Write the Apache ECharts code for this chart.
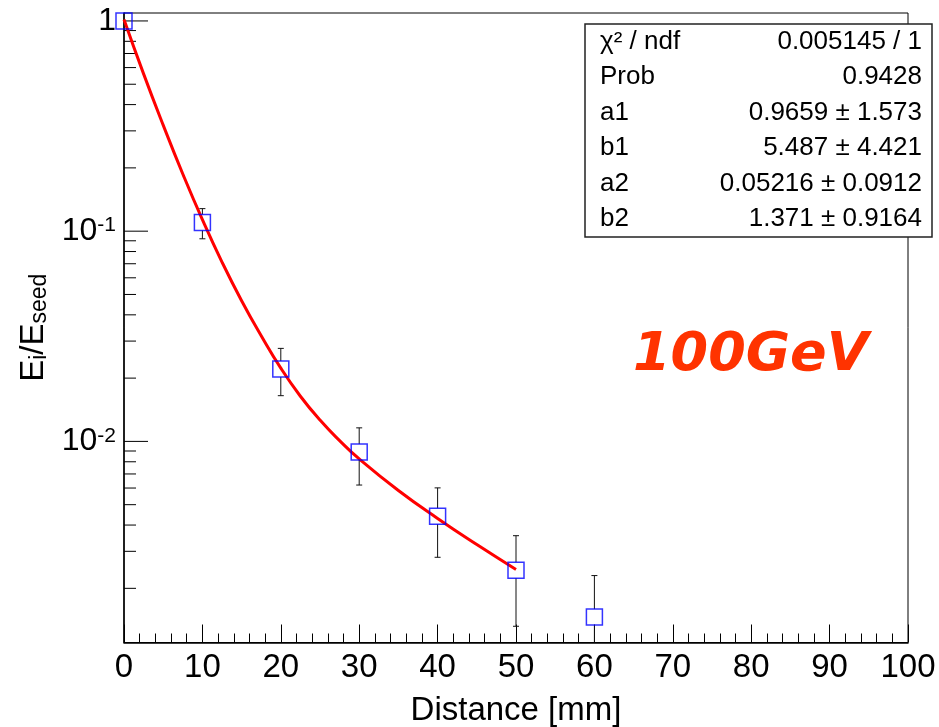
<!DOCTYPE html>
<html><head><meta charset="utf-8">
<script src="https://cdn.jsdelivr.net/npm/echarts@6/dist/echarts.min.js"></script>
<style>html,body{margin:0;padding:0;background:#fff}#c{width:939px;height:727px}</style>
</head><body><div id="c"></div>
<script>
// ---- data ----
const distances = [0, 10, 20, 30, 40, 50, 60];
const ratios    = [1.0, 0.110, 0.0221, 0.0089, 0.00441, 0.00244, 0.00146];
const errors    = [0, 0.018, 0.0056, 0.0027, 0.0016, 0.00112, 0.00084];
const fitX = [0, 2.5, 5, 7.5, 10, 12.5, 15, 17.5, 20, 22.5, 25, 27.5, 30, 35, 40, 45, 50];
const fitY = [1.016, 0.560, 0.3195, 0.1871, 0.1134, 0.0713, 0.0467, 0.0318, 0.0223, 0.0164, 0.01263, 0.01009, 0.00825, 0.00584, 0.0043, 0.00323, 0.00246];
const yMajorTicks = [0.01, 0.1, 1];
const yMinorTicks = [0.002,0.003,0.004,0.005,0.006,0.007,0.008,0.009,
                     0.02,0.03,0.04,0.05,0.06,0.07,0.08,0.09,
                     0.2,0.3,0.4,0.5,0.6,0.7,0.8,0.9];
const statLabels = ['χ² / ndf', 'Prob', 'a1', 'b1', 'a2', 'b2'];
const statValues = ['0.005145 / 1', '0.9428', '0.9659 ± 1.573', '5.487 ± 4.421', '0.05216 ± 0.0912', '1.371 ± 0.9164'];
const energyLabel = '100GeV';
const xTitle = 'Distance [mm]';

// ---- build ----
const FONT = '"Liberation Sans", Arial, Helvetica, sans-serif';
const chart = echarts.init(document.getElementById('c'), null, {renderer: 'canvas'});

const pointData = distances.map((d, i) => [d, ratios[i]]);
const errData = distances.map((d, i) => [d, ratios[i] - errors[i], ratios[i] + errors[i], ratios[i]]);
const fitData = fitX.map((x, i) => [x, fitY[i]]);
const tickData = yMajorTicks.map(v => [0, v, 24]).concat(yMinorTicks.map(v => [0, v, 12]));

const statGraphics = [];
const boxX = 585, boxY = 24, boxW = 347, boxH = 213;
statGraphics.push({type: 'rect', z: 100, shape: {x: boxX, y: boxY, width: boxW, height: boxH},
  style: {fill: '#fff', stroke: '#222', lineWidth: 1.5}});
const rowH = boxH / statLabels.length;
statLabels.forEach((lab, i) => {
  const cy = boxY + rowH * (i + 0.5);
  statGraphics.push({type: 'text', z: 101, x: 600, y: cy,
    style: {text: lab, font: '26px ' + FONT, fill: '#000', textAlign: 'left', textVerticalAlign: 'middle'}});
  statGraphics.push({type: 'text', z: 101, x: 922, y: cy,
    style: {text: statValues[i], font: '26px ' + FONT, fill: '#000', textAlign: 'right', textVerticalAlign: 'middle'}});
});
statGraphics.push({type: 'text', z: 101, x: 633, y: 356,
  style: {text: energyLabel, font: 'italic bold 54px "DejaVu Sans", sans-serif', fill: '#ff3300',
    textAlign: 'left', textVerticalAlign: 'middle'}});

const option = {
  animation: false,
  backgroundColor: '#fff',
  grid: {left: 124, right: 31, top: 13, bottom: 84.5, show: true, borderColor: '#000', borderWidth: 1,
    backgroundColor: 'transparent', containLabel: false, outerBoundsMode: 'none'},
  xAxis: {
    type: 'value', min: 0, max: 100, interval: 10,
    axisLine: {show: true, onZero: false, lineStyle: {color: '#000', width: 1.5}},
    axisTick: {show: true, inside: true, length: 18, lineStyle: {color: '#000', width: 1}},
    minorTick: {show: true, splitNumber: 5, length: 9, lineStyle: {color: '#000', width: 1}},
    splitLine: {show: false},
    axisLabel: {fontSize: 33, color: '#000', fontFamily: FONT, margin: 9},
    name: xTitle, nameLocation: 'middle', nameGap: 52,
    nameTextStyle: {fontSize: 33, color: '#000', fontFamily: FONT}
  },
  yAxis: {
    type: 'log', logBase: 10, min: 0.001105, max: 1.091,
    axisLine: {show: true, onZero: false, lineStyle: {color: '#000', width: 1.5}},
    axisTick: {show: false},
    splitLine: {show: false},
    axisLabel: {
      margin: 8, color: '#000', fontFamily: FONT,
      formatter: function (v) {
        const l = Math.log10(v), e = Math.round(l);
        if (Math.abs(l - e) > 1e-6) return '';
        if (e === 0) return '{b|1}';
        return '{b|10}{s|' + e + '}';
      },
      rich: {
        b: {fontSize: 32, fontFamily: FONT, color: '#000'},
        s: {fontSize: 21, fontFamily: FONT, color: '#000', verticalAlign: 'top'}
      }
    },
    name: '{b|E}{s|i}{b|/E}{s|seed}', nameLocation: 'middle', nameGap: 66,
    nameTextStyle: {
      rich: {
        b: {fontSize: 33, fontFamily: FONT, color: '#000'},
        s: {fontSize: 23, fontFamily: FONT, color: '#000', verticalAlign: 'bottom'}
      }
    }
  },
  graphic: statGraphics,
  series: [
    {
      type: 'custom', name: 'yticks', clip: false, silent: true, z: 3,
      data: tickData,
      renderItem: function (params, api) {
        const p = api.coord([api.value(0), api.value(1)]);
        const len = api.value(2);
        return {type: 'line', shape: {x1: p[0], y1: p[1], x2: p[0] + len, y2: p[1]},
          style: {stroke: '#000', lineWidth: 1}};
      }
    },
    {
      type: 'line', name: 'fit', data: fitData, smooth: 0.5, showSymbol: false, symbol: 'none',
      lineStyle: {color: '#ff0000', width: 3}, z: 4, clip: true
    },
    {
      type: 'custom', name: 'errors', clip: true, silent: true, z: 5,
      data: errData,
      renderItem: function (params, api) {
        const x = api.value(0);
        const c = api.coord([x, api.value(3)]);
        const lo = api.coord([x, api.value(1)]);
        const hi = api.coord([x, api.value(2)]);
        const half = 8, cap = 3;
        const st = {stroke: '#111', lineWidth: 1};
        const children = [];
        if (hi[1] < c[1] - half) {
          children.push({type: 'line', shape: {x1: c[0], y1: hi[1], x2: c[0], y2: c[1] - half}, style: st});
          children.push({type: 'line', shape: {x1: c[0] - cap, y1: hi[1], x2: c[0] + cap, y2: hi[1]}, style: st});
        }
        const loY = isFinite(lo[1]) ? lo[1] : 2000;
        if (loY > c[1] + half) {
          children.push({type: 'line', shape: {x1: c[0], y1: c[1] + half, x2: c[0], y2: loY}, style: st});
          children.push({type: 'line', shape: {x1: c[0] - cap, y1: loY, x2: c[0] + cap, y2: loY}, style: st});
        }
        return {type: 'group', children: children};
      }
    },
    {
      type: 'scatter', name: 'data', data: pointData, symbol: 'rect', symbolSize: 16, z: 6,
      itemStyle: {color: 'rgba(0,0,0,0)', borderColor: '#0000ff', borderWidth: 1.5}
    }
  ]
};
chart.setOption(option);
</script>
</body></html>
